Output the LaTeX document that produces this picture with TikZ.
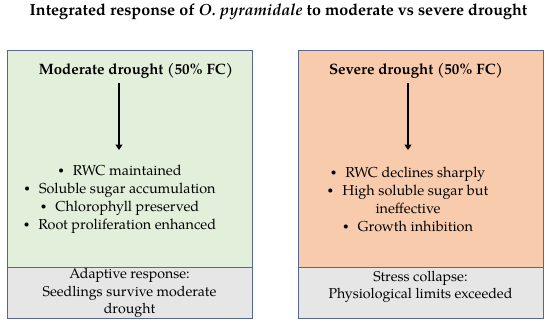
\documentclass[tikz,border=0pt]{standalone}
\usepackage{fontspec}
\setmainfont{TeX Gyre Pagella}
\usetikzlibrary{arrows.meta}
\definecolor{boxgreen}{HTML}{E2EFDA}
\definecolor{boxorange}{HTML}{F8CBAD}
\definecolor{boxgray}{HTML}{E7E6E6}
\definecolor{boxline}{HTML}{56688F}
\tikzset{
  panel/.style={draw=boxline, line width=1pt},
  head/.style={font=\fontsize{15}{16}\selectfont\bfseries, inner sep=0pt},
  body/.style={font=\fontsize{14.4}{18}\selectfont, align=center, inner sep=0pt},
  foot/.style={font=\fontsize{14.2}{17.6}\selectfont, align=center, inner sep=0pt},
  arr/.style={line width=1.8pt, -{Triangle[length=5.5pt,width=7pt]}},
}
\newcommand{\bul}{\raisebox{1.6pt}{\fontsize{10}{10}\selectfont\textbullet}\hspace{9pt}}
\begin{document}
\begin{tikzpicture}[x=1pt,y=-1pt]
\useasboundingbox (0,0) rectangle (550,325);
\node[font=\fontsize{16.1}{19}\selectfont\bfseries, inner sep=0pt] (title) at (278.5,12)
  {Integrated response of \textit{O. pyramidale} to moderate vs severe drought};
% left panel
\draw[panel, fill=boxgreen] (7,50) rectangle (252,267);
\draw[panel, fill=boxgray] (7,267) rectangle (252,318);
\node[head] (lhead) at (136,71) {Moderate drought (50\% FC)};
\coordinate (ls) at (119,83);
\coordinate (le) at (119,150);
\draw[arr] (ls) -- (le);
\node[body] (lbody) at (120,199) {\bul RWC maintained\\ \bul Soluble sugar accumulation\\ \bul Chlorophyll preserved\\ \bul Root proliferation enhanced};
\node[foot] (lfoot) at (129.5,293) {Adaptive response:\\ Seedlings survive moderate\\ drought};
% right panel
\draw[panel, fill=boxorange] (298,50) rectangle (543,267);
\draw[panel, fill=boxgray] (298,267) rectangle (543,318);
\node[head] (rhead) at (416,71) {Severe drought (50\% FC)};
\coordinate (rs) at (408,83);
\coordinate (re) at (408,150);
\draw[arr] (rs) -- (re);
\node[body] (rbody) at (408,199) {\bul RWC declines sharply\\ \bul High soluble sugar but\\ ineffective\\ \bul Growth inhibition};
\node[foot] (rfoot) at (420.5,287) {Stress collapse:\\ Physiological limits exceeded};
\end{tikzpicture}
\end{document}
